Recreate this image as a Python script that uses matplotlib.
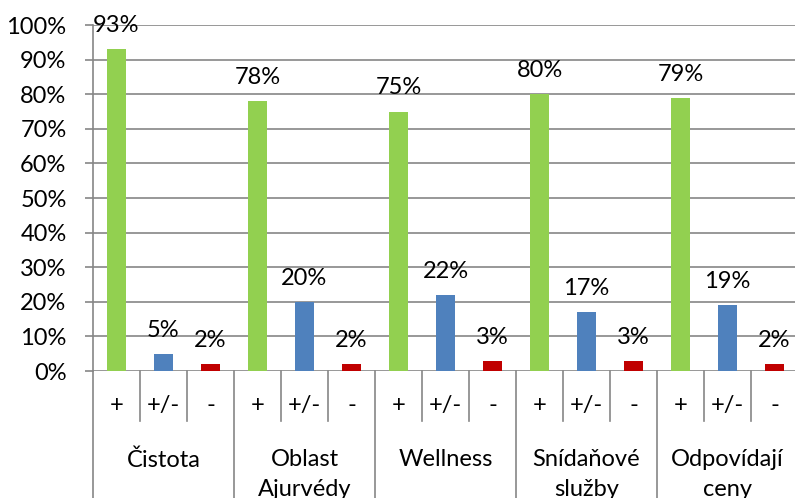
import numpy as np
import matplotlib
matplotlib.use('Agg')
import matplotlib.pyplot as plt

plt.rcParams['font.family'] = ['Lato', 'DejaVu Sans']

groups = ['Čistota', 'Oblast\nAjurvédy', 'Wellness', 'Snídaňové\nslužby', 'Odpovídají\nceny']
ratings = ['+', '+/-', '-']
positive = [93, 78, 75, 80, 79]
neutral = [5, 20, 22, 17, 19]
negative = [2, 2, 3, 3, 2]

colors = ['#92D050', '#4F81BD', '#C00000']
grid_gray = '#868686'
fs = 17

fig = plt.figure(figsize=(7.95, 4.98), dpi=100)
# plot area runs a little past the right edge of the figure
ax = fig.add_axes([93 / 795, 1 - 371 / 498, 705 / 795, 346 / 498])

n = len(ratings)
series = [positive, neutral, negative]
for k, vals in enumerate(series):
    xs = np.arange(len(groups)) * n + k
    ax.bar(xs, vals, width=0.4, color=colors[k], zorder=3)
    for x, v in zip(xs, vals):
        ax.annotate(f'{v:.0f}%', (x, v), xytext=(0, 17), textcoords='offset points',
                    ha='center', va='center', fontsize=fs, zorder=4)

ax.set_xlim(-0.5, len(groups) * n - 0.5)
ax.set_ylim(0, 100)
ax.set_yticks(range(0, 101, 10))
ax.set_yticklabels([f'{t}%' for t in range(0, 101, 10)], fontsize=fs)
ax.yaxis.grid(True, color=grid_gray, linewidth=1.2, zorder=0)
ax.tick_params(axis='y', length=6, width=1.2, color=grid_gray, pad=13)
ax.set_xticks([])
for side in ['top', 'right', 'bottom']:
    ax.spines[side].set_visible(False)
ax.spines['left'].set_color(grid_gray)
ax.spines['left'].set_linewidth(1.2)

# two-level category axis below the plot
trans = ax.get_xaxis_transform()
short_end = -50 / 346
long_end = -127 / 346
for i in range(len(groups) * n + 1):
    end = long_end if i % n == 0 else short_end
    ax.plot([i - 0.5, i - 0.5], [0, end], color=grid_gray, linewidth=1.2,
            transform=trans, clip_on=False)

for g, name in enumerate(groups):
    for k, r in enumerate(ratings):
        ax.text(g * n + k, -34 / 346, r, transform=trans, ha='center', va='center',
                fontsize=fs)
    ax.text(g * n + 1, -78 / 346, name, transform=trans, ha='center', va='top',
            fontsize=fs, linespacing=1.5)

fig.savefig('out.png', dpi=100)
